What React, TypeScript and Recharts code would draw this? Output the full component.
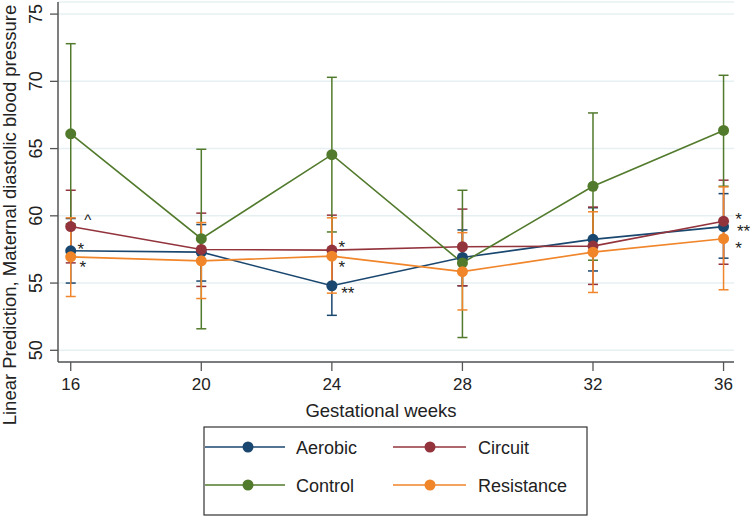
import React from "react";
import {
  LineChart,
  Line,
  XAxis,
  YAxis,
  CartesianGrid,
  ErrorBar,
  Legend,
  Customized,
} from "recharts";

const weeks = [16, 20, 24, 28, 32, 36];

const aerobic = [57.4, 57.3, 54.8, 56.9, 58.25, 59.2];
const aerobicLow = [55.0, 55.15, 52.6, 54.8, 55.9, 56.85];
const aerobicHigh = [59.8, 59.35, 56.95, 58.95, 60.6, 61.65];

const circuit = [59.2, 57.5, 57.45, 57.7, 57.75, 59.6];
const circuitLow = [56.5, 54.75, 54.85, 54.8, 54.9, 56.4];
const circuitHigh = [61.9, 60.2, 60.05, 60.5, 60.65, 62.65];

const control = [66.1, 58.3, 64.55, 56.5, 62.2, 66.35];
const controlLow = [59.4, 51.6, 58.8, 50.95, 56.7, 62.2];
const controlHigh = [72.8, 64.95, 70.3, 61.9, 67.65, 70.45];

const resistance = [56.95, 56.65, 57.0, 55.85, 57.3, 58.3];
const resistanceLow = [54.0, 53.85, 54.25, 53.0, 54.3, 54.5];
const resistanceHigh = [59.85, 59.5, 59.85, 58.75, 60.3, 62.15];

const aerobicNotes = ["*", "", "**", "", "", "**"];
const circuitNotes = ["^", "", "*", "", "", "*"];
const resistanceNotes = ["*", "", "*", "", "", "*"];

const yTicks = [50, 55, 60, 65, 70, 75];

const COLORS = {
  aerobic: "#1a476f",
  circuit: "#93343d",
  control: "#527a2c",
  resistance: "#f0852a",
};

const FONT = "'Liberation Sans', Arial, Helvetica, sans-serif";

const data = weeks.map((w, i) => ({
  week: w,
  aerobic: aerobic[i],
  aerobicErr: [aerobic[i] - aerobicLow[i], aerobicHigh[i] - aerobic[i]],
  circuit: circuit[i],
  circuitErr: [circuit[i] - circuitLow[i], circuitHigh[i] - circuit[i]],
  control: control[i],
  controlErr: [control[i] - controlLow[i], controlHigh[i] - control[i]],
  resistance: resistance[i],
  resistanceErr: [resistance[i] - resistanceLow[i], resistanceHigh[i] - resistance[i]],
}));

// offsets of the significance marks from their point (glyph centre)
const noteOffsets: Record<string, Record<number, [number, number]>> = {
  aerobic: { 0: [10, -6], 2: [16, 3], 5: [20, 0] },
  circuit: { 0: [17, -10], 2: [10, -7], 5: [15, -6] },
  resistance: { 0: [12, 6], 2: [10, 7], 5: [15, 5] },
};

const noteLabel = (series: string, notes: string[]) => (props: any) => {
  const { x, y, index } = props;
  const text = notes[index];
  if (!text || x == null || y == null) return <g />;
  const [dx, dy] = noteOffsets[series][index] || [10, 0];
  const caret = text === "^";
  return (
    <text
      x={x + dx}
      y={y + dy + (caret ? 8 : 10)}
      textAnchor="middle"
      fontSize={caret ? 15 : 17}
      fontFamily={FONT}
      fill="#222"
    >
      {text}
    </text>
  );
};

const YTick = (props: any) => {
  const { y, payload } = props;
  return (
    <text
      x={42}
      y={y}
      transform={`rotate(-90, 42, ${y})`}
      textAnchor="middle"
      fontSize={18}
      fontFamily={FONT}
      fill="#222"
    >
      {payload.value}
    </text>
  );
};

const legendItems = [
  { name: "Aerobic", color: COLORS.aerobic, col: 0, row: 0 },
  { name: "Circuit", color: COLORS.circuit, col: 1, row: 0 },
  { name: "Control", color: COLORS.control, col: 0, row: 1 },
  { name: "Resistance", color: COLORS.resistance, col: 1, row: 1 },
];

const LegendBox = () => {
  const cols = [
    { x1: 2, x2: 82, m: 45, t: 93 },
    { x1: 190, x2: 263, m: 227, t: 275 },
  ];
  const rows = [21, 59];
  return (
    <svg width={386} height={92}>
      <rect x={1} y={1} width={383} height={88} fill="#fff" stroke="#333" strokeWidth={1.2} />
      {legendItems.map((it) => {
        const c = cols[it.col];
        const ry = rows[it.row];
        return (
          <g key={it.name}>
            <line x1={c.x1} x2={c.x2} y1={ry} y2={ry} stroke={it.color} strokeWidth={1.6} />
            <circle cx={c.m} cy={ry} r={5.5} fill={it.color} />
            <text x={c.t} y={ry + 6.5} fontSize={18} fontFamily={FONT} fill="#222">
              {it.name}
            </text>
          </g>
        );
      })}
    </svg>
  );
};

const Titles = () => (
  <g>
    <text x={381} y={417} textAnchor="middle" fontSize={18.5} fontFamily={FONT} fill="#222">
      Gestational weeks
    </text>
    <text
      x={16}
      y={215}
      transform="rotate(-90, 16, 215)"
      textAnchor="middle"
      fontSize={18.5}
      fontFamily={FONT}
      fill="#222"
    >
      Linear Prediction, Maternal diastolic blood pressure
    </text>
  </g>
);

export default function App() {
  const series = [
    { key: "aerobic", notes: aerobicNotes },
    { key: "circuit", notes: circuitNotes },
    { key: "control", notes: null },
    { key: "resistance", notes: resistanceNotes },
  ];
  return (
    <div style={{ position: "absolute", left: 0, top: 0, width: 750, height: 517, background: "#fff" }}>
      <LineChart
        width={750}
        height={517}
        data={data}
        margin={{ top: 2, right: 16, left: 0, bottom: 95 }}
      >
        <CartesianGrid horizontal vertical={false} stroke="#e6f0f2" strokeWidth={1.5} />
        <XAxis
          dataKey="week"
          type="number"
          domain={[15.61, 36.32]}
          ticks={weeks}
          allowDataOverflow
          height={60}
          tickSize={9}
          tickMargin={7}
          axisLine={{ stroke: "#555", strokeWidth: 1.5 }}
          tickLine={{ stroke: "#555", strokeWidth: 1.3 }}
          tick={{ fontSize: 17, fontFamily: FONT, fill: "#222" }}
        />
        <YAxis
          type="number"
          domain={[49.13, 75.9]}
          ticks={yTicks}
          allowDataOverflow
          width={58}
          tickSize={8}
          axisLine={{ stroke: "#555", strokeWidth: 1.5 }}
          tickLine={{ stroke: "#555", strokeWidth: 1.3 }}
          tick={<YTick />}
        />
        {series.map((s) => (
          <Line
            key={s.key}
            dataKey={s.key}
            stroke={(COLORS as any)[s.key]}
            strokeWidth={1.6}
            dot={{ r: 5.5, fill: (COLORS as any)[s.key], stroke: "none" }}
            activeDot={false}
            isAnimationActive={false}
            label={s.notes ? noteLabel(s.key, s.notes) : false}
          >
            <ErrorBar
              dataKey={`${s.key}Err`}
              direction="y"
              width={5}
              stroke={(COLORS as any)[s.key]}
              strokeWidth={1.5}
              isAnimationActive={false}
            />
          </Line>
        ))}
        <Legend
          verticalAlign="middle"
          align="center"
          content={() => <LegendBox />}
          wrapperStyle={{ left: 203, top: 426, width: 386, height: 92, position: "absolute" }}
        />
        <Customized component={Titles} />
      </LineChart>
    </div>
  );
}
